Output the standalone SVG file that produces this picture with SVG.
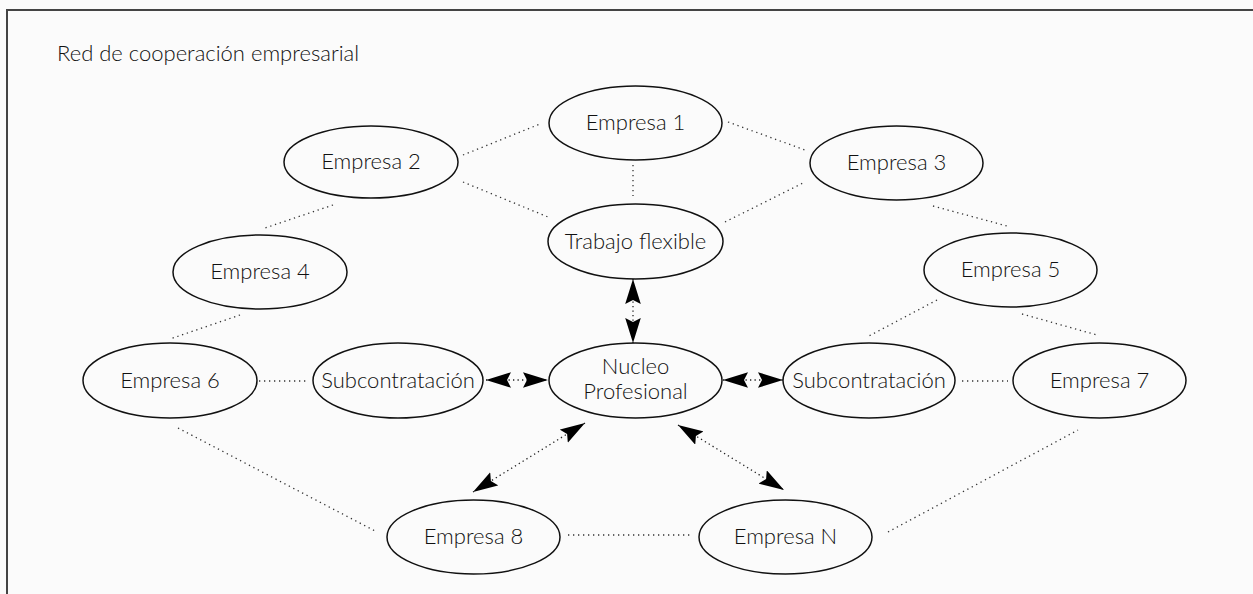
<svg xmlns="http://www.w3.org/2000/svg" width="1253" height="594" viewBox="0 0 1253 594">
  <style>
    .bg { fill: #fbfbfb; }
    .frame { stroke: #444; stroke-width: 2; fill: none; }
    .node ellipse { fill: #fbfbfb; stroke: #111; stroke-width: 1.5; }
    text { font-family: Lato, "Open Sans", "Liberation Sans", sans-serif; font-size: 22px; font-weight: 300; fill: #111; }
    .node text { text-anchor: middle; }
    .link { stroke: #333; stroke-width: 1.3; stroke-dasharray: 1.3 3.7; fill: none; }
    .rel { stroke: #222; stroke-width: 1.3; stroke-dasharray: 1.3 3.2; fill: none;
           marker-start: url(#head); marker-end: url(#head); }
  </style>
  <defs>
    <marker id="head" markerUnits="userSpaceOnUse" viewBox="0 -8 26 16" markerWidth="26" markerHeight="16" refX="25" refY="0" orient="auto-start-reverse">
      <path d="M0,-7.8 L25,0 L0,7.8 L4,0 Z" fill="#000"/>
    </marker>
  </defs>

  <rect class="bg" x="0" y="0" width="1253" height="594"/>
  <path class="frame" d="M7,594 V10 H1253"/>

  <text x="57" y="61">Red de cooperación empresarial</text>

  <!-- dotted links between companies -->
  <g id="connectors">
    <line class="link" x1="463" y1="155" x2="540" y2="124"/>
    <line class="link" x1="463" y1="182" x2="548" y2="217"/>
    <line class="link" x1="633" y1="165" x2="633" y2="196"/>
    <line class="link" x1="728" y1="122" x2="805" y2="150"/>
    <line class="link" x1="725" y1="222" x2="805" y2="182"/>
    <line class="link" x1="933" y1="206" x2="1007" y2="226"/>
    <line class="link" x1="937" y1="300" x2="867" y2="337"/>
    <line class="link" x1="1022" y1="314" x2="1097" y2="335"/>
    <line class="link" x1="962" y1="381" x2="1008" y2="381"/>
    <line class="link" x1="333" y1="205" x2="265" y2="228"/>
    <line class="link" x1="240" y1="315" x2="170" y2="339"/>
    <line class="link" x1="259" y1="381" x2="309" y2="381"/>
    <line class="link" x1="178" y1="428" x2="377" y2="532"/>
    <line class="link" x1="568" y1="535" x2="690" y2="535"/>
    <line class="link" x1="888" y1="532" x2="1078" y2="430"/>

    <!-- two-way relations with the professional core -->
    <line class="rel" x1="633" y1="279" x2="633" y2="343"/>
    <line class="rel" x1="486" y1="380" x2="548" y2="380"/>
    <line class="rel" x1="723" y1="380" x2="783" y2="380"/>
    <line class="rel" x1="585" y1="423" x2="473" y2="492"/>
    <line class="rel" x1="678" y1="425" x2="784" y2="490"/>
  </g>

  <g id="empresa1" class="node">
    <ellipse cx="635.5" cy="123" rx="86.5" ry="37"/>
    <text x="635.5" y="130">Empresa 1</text>
  </g>
  <g id="empresa2" class="node">
    <ellipse cx="371" cy="162" rx="87" ry="36"/>
    <text x="371" y="169">Empresa 2</text>
  </g>
  <g id="empresa3" class="node">
    <ellipse cx="896.5" cy="163" rx="86.5" ry="37"/>
    <text x="896.5" y="170">Empresa 3</text>
  </g>
  <g id="trabajo" class="node">
    <ellipse cx="635.5" cy="241.5" rx="87.5" ry="37.5"/>
    <text x="635.5" y="248.5">Trabajo flexible</text>
  </g>
  <g id="empresa4" class="node">
    <ellipse cx="260" cy="272" rx="87" ry="37"/>
    <text x="260" y="279">Empresa 4</text>
  </g>
  <g id="empresa5" class="node">
    <ellipse cx="1010.5" cy="270" rx="86.5" ry="37"/>
    <text x="1010.5" y="277">Empresa 5</text>
  </g>
  <g id="empresa6" class="node">
    <ellipse cx="170" cy="380.5" rx="87" ry="37.5"/>
    <text x="170" y="387.5">Empresa 6</text>
  </g>
  <g id="subcontratacion1" class="node">
    <ellipse cx="398" cy="380.5" rx="85" ry="37.5"/>
    <text x="398" y="387.5">Subcontratación</text>
  </g>
  <g id="nucleo" class="node">
    <ellipse cx="635.5" cy="380.5" rx="86.5" ry="37.5"/>
    <text x="635.5" y="374">Nucleo</text>
    <text x="635.5" y="399">Profesional</text>
  </g>
  <g id="subcontratacion2" class="node">
    <ellipse cx="869" cy="380.5" rx="86" ry="37.5"/>
    <text x="869" y="387.5">Subcontratación</text>
  </g>
  <g id="empresa7" class="node">
    <ellipse cx="1099.5" cy="380.5" rx="86.5" ry="37.5"/>
    <text x="1099.5" y="387.5">Empresa 7</text>
  </g>
  <g id="empresa8" class="node">
    <ellipse cx="473.5" cy="537" rx="86.5" ry="37"/>
    <text x="473.5" y="544">Empresa 8</text>
  </g>
  <g id="empresaN" class="node">
    <ellipse cx="785.5" cy="537" rx="86.5" ry="37"/>
    <text x="785.5" y="544">Empresa N</text>
  </g>
</svg>
